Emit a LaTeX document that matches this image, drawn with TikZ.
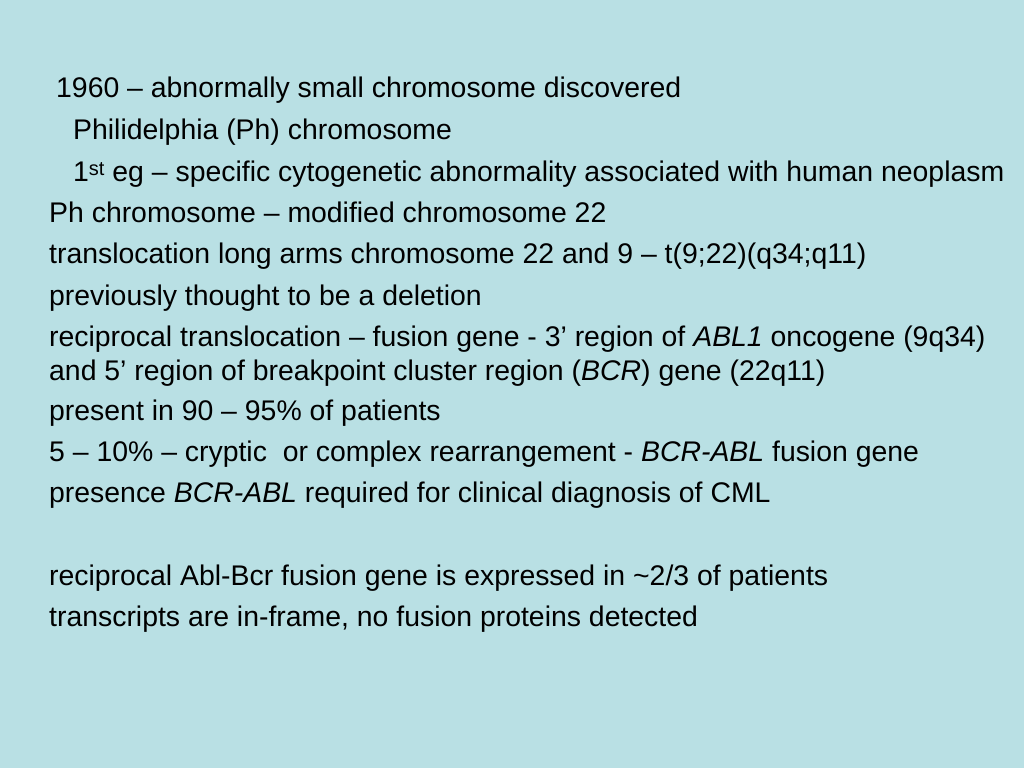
\documentclass[tikz,border=0pt]{standalone}
\usepackage{fontspec}
\setmainfont{Liberation Sans}
\definecolor{slidebg}{RGB}{185,224,228}
\tikzset{slidetext/.style={anchor=base west, inner sep=0pt, font=\fontsize{28.4}{32}\selectfont}}
\begin{document}
\begin{tikzpicture}[x=1pt, y=-1pt]
		\fill[slidebg] (0, 0) rectangle (1024, 768);
		\useasboundingbox (0, 0) rectangle (1024, 768);
		\node[slidetext] (t1) at (56, 97) {1960 -- abnormally small chromosome discovered};
		\node[slidetext] (t2) at (73, 139) {Philidelphia (Ph) chromosome};
		\node[slidetext] (t3) at (73, 181) {1{\fontsize{20}{22}\selectfont\raisebox{0.55ex}{st}} eg -- specific cytogenetic abnormality associated with human neoplasm};
		\node[slidetext] (t4) at (49, 222) {Ph chromosome -- modified chromosome 22};
		\node[slidetext] (t5) at (49, 263) {translocation long arms chromosome 22 and 9 -- t(9;22)(q34;q11)};
		\node[slidetext] (t6) at (49, 305) {previously thought to be a deletion};
		\node[slidetext] (t7) at (49, 346) {reciprocal translocation -- fusion gene - 3’ region of \textit{ABL1} oncogene (9q34)};
		\node[slidetext] (t8) at (49, 380) {and 5’ region of breakpoint cluster region (\textit{BCR}) gene (22q11)};
		\node[slidetext] (t9) at (49, 420) {present in 90 -- 95\% of patients};
		\node[slidetext] (t10) at (49, 461) {5 -- 10\% -- cryptic \ or complex rearrangement - \textit{BCR-ABL} fusion gene};
		\node[slidetext] (t11) at (49, 502) {presence \textit{BCR-ABL} required for clinical diagnosis of CML};
		
		\node[slidetext] (t12) at (49, 585) {reciprocal Abl-Bcr fusion gene is expressed in \textasciitilde 2/3 of patients};
		\node[slidetext] (t13) at (49, 626) {transcripts are in-frame, no fusion proteins detected};
	\end{tikzpicture}
\end{document}
